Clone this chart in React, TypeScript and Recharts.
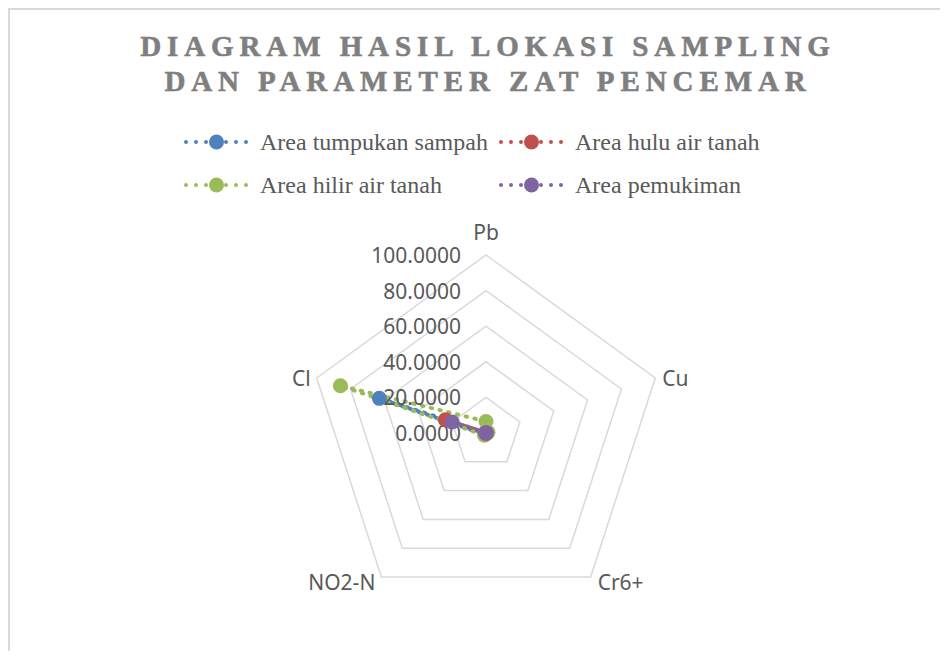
import React from 'react';
import { RadarChart, Radar, PolarGrid, PolarAngleAxis, PolarRadiusAxis, Legend } from 'recharts';

const categories = ['Pb', 'Cu', 'Cr6+', 'NO2-N', 'Cl'];
const seriesNames = ['Area tumpukan sampah', 'Area hulu air tanah', 'Area hilir air tanah', 'Area pemukiman'];
const tumpukanValues = [0.3, 0.5, 0.05, 1.0, 63];
const huluValues = [0.2, 0.3, 0.05, 0.5, 24];
const hilirValues = [6.5, 1.2, 0.05, 1.5, 86];
const pemukimanValues = [0.1, 0.2, 0.05, 0.3, 20];
const radiusTicks = [0, 20, 40, 60, 80, 100];
const titleLines = ['DIAGRAM HASIL LOKASI SAMPLING', 'DAN PARAMETER ZAT PENCEMAR'];

const seriesValues = [tumpukanValues, huluValues, hilirValues, pemukimanValues];
const colors = ['#4F81BD', '#C0504D', '#9BBB59', '#8064A2'];
const keys = ['s0', 's1', 's2', 's3'];

const data = categories.map((c, i) => {
  const row: any = { param: c };
  seriesValues.forEach((vals, s) => {
    row[keys[s]] = vals[i];
  });
  return row;
});

const W = 931;
const H = 641;
const CX = 476;
const CY = 423;
const R = 178;
const SANS = '"Noto Sans", "Open Sans", sans-serif';
const SERIF = '"Liberation Serif", "Times New Roman", serif';

const renderRadiusTick = (props: any) => {
  const { x, y, payload } = props;
  return (
    <text x={x - 25} y={y} textAnchor="end" dominantBaseline="central" fontFamily={SANS} fontSize={21} fill="#595959">
      {Number(payload.value).toFixed(4)}
    </text>
  );
};

const renderAngleTick = (props: any) => {
  const { x, y, payload } = props;
  const ang = Math.atan2(y - CY, x - CX);
  const ux = Math.cos(ang);
  const uy = Math.sin(ang);
  const vx = CX + ux * R;
  const vy = CY + uy * R;
  let tx = vx;
  let ty = vy;
  let anchor: any = 'middle';
  if (Math.abs(ux) < 0.2) {
    ty = uy < 0 ? vy - 23 : vy + 23;
  } else if (ux > 0) {
    anchor = 'start';
    tx = vx + 7;
    ty = uy > 0.5 ? vy + 5 : vy;
  } else {
    anchor = 'end';
    tx = vx - 6;
    ty = uy > 0.5 ? vy + 5 : vy;
  }
  return (
    <text x={tx} y={ty} textAnchor={anchor} dominantBaseline="central" fontFamily={SANS} fontSize={21} fill="#595959">
      {payload.value}
    </text>
  );
};

const makeDot = (color: string) => (p: any) => (
  <circle key={`${color}-${p.index}`} cx={p.cx} cy={p.cy} r={7.5} fill={color} stroke="none" />
);

const LegendSymbol = ({ color }: { color: string }) => (
  <svg width={72} height={24} style={{ position: 'absolute', left: 0, top: 0 }}>
    <line x1={5} y1={12} x2={66} y2={12} stroke={color} strokeWidth={4} strokeDasharray="0 10" strokeLinecap="round" />
    <circle cx={35.5} cy={12} r={7.5} fill={color} />
  </svg>
);

const renderLegend = () => {
  const colX = [171, 486];
  const rowY = [120, 163];
  return (
    <div style={{ position: 'relative', width: W, height: 0 }}>
      {seriesNames.map((name, i) => {
        const col = i % 2;
        const row = Math.floor(i / 2);
        return (
          <div key={name} style={{ position: 'absolute', left: colX[col], top: rowY[row], height: 24, width: 320 }}>
            <LegendSymbol color={colors[i]} />
            <span
              style={{
                position: 'absolute',
                left: 79,
                top: 0,
                fontFamily: SERIF,
                fontSize: 24,
                lineHeight: '24px',
                color: '#595959',
                whiteSpace: 'nowrap',
              }}
            >
              {name}
            </span>
          </div>
        );
      })}
    </div>
  );
};

export default function App() {
  return (
    <div
      style={{
        position: 'relative',
        width: W,
        height: H,
        borderTop: '2px solid #d9d9d9',
        borderLeft: '2px solid #d9d9d9',
        background: '#fff',
        overflow: 'hidden',
      }}
    >
      <div
        style={{
          position: 'absolute',
          left: 25,
          top: 19,
          width: 900,
          boxSizing: 'border-box',
          paddingLeft: 6,
          textAlign: 'center',
          fontFamily: SERIF,
          fontWeight: 700,
          fontSize: 29,
          lineHeight: '35px',
          letterSpacing: 5.9,
          color: '#7f7f7f',
          WebkitTextStroke: '0.6px #7f7f7f',
          zIndex: 2,
        }}
      >
        {titleLines.map((t) => (
          <div key={t}>{t}</div>
        ))}
      </div>
      <RadarChart
        width={W}
        height={H}
        data={data}
        cx={CX}
        cy={CY}
        outerRadius={R}
        margin={{ top: 0, right: 0, bottom: 0, left: 0 }}
      >
        <PolarGrid gridType="polygon" radialLines={false} stroke="#d9d9d9" strokeWidth={1.5} />
        <PolarAngleAxis dataKey="param" tick={renderAngleTick} tickLine={false} axisLine={false} />
        <PolarRadiusAxis
          angle={90}
          domain={[0, 100]}
          ticks={radiusTicks as any}
          tickCount={6}
          axisLine={false}
          tickLine={false}
          tick={renderRadiusTick}
        />
        {keys.map((k, i) => (
          <Radar
            key={k}
            name={seriesNames[i]}
            dataKey={k}
            stroke={colors[i]}
            strokeWidth={4}
            strokeDasharray="1.5 7.5"
            strokeLinecap="round"
            fill="none"
            fillOpacity={0}
            dot={makeDot(colors[i])}
            isAnimationActive={false}
          />
        ))}
        <Legend content={renderLegend} wrapperStyle={{ top: 0, left: 0, width: W, height: 0 }} />
      </RadarChart>
    </div>
  );
}
